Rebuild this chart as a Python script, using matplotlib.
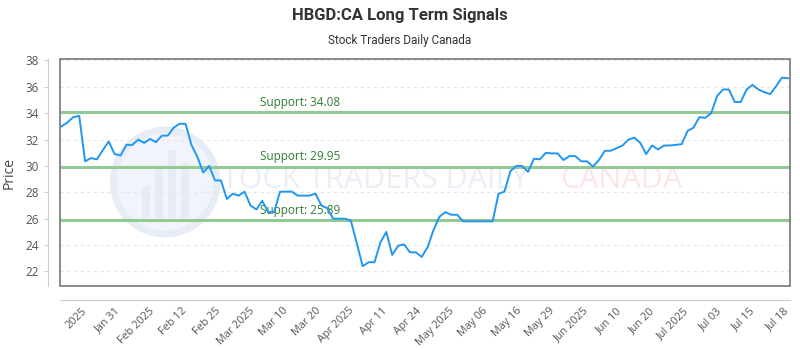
import numpy as np
import matplotlib
matplotlib.use('Agg')
import matplotlib.pyplot as plt
from matplotlib.patches import Ellipse, Rectangle

plt.rcParams['font.family'] = ['Open Sans', 'DejaVu Sans']

title = 'HBGD:CA Long Term Signals'
subtitle = 'Stock Traders Daily Canada'

# closing prices, one per trading day
prices = [
    33.0, 33.3, 33.7, 33.8, 30.35, 30.6, 30.5, 31.2, 31.85, 30.9,
    30.8, 31.6, 31.6, 32.0, 31.75, 32.05, 31.8, 32.3, 32.3, 32.9,
    33.2, 33.2, 31.6, 30.7, 29.5, 30.0, 28.9, 28.9, 27.5, 27.9,
    27.75, 28.05, 27.0, 26.7, 27.35, 26.5, 26.5, 28.05, 28.05, 28.05,
    27.75, 27.75, 27.75, 27.9, 27.0, 26.8, 26.0, 26.0, 26.0, 25.85,
    24.15, 22.4, 22.7, 22.7, 24.2, 25.0, 23.25, 23.95, 24.05, 23.45,
    23.45, 23.1, 23.85, 25.15, 26.15, 26.5, 26.3, 26.3, 25.8, 25.8,
    25.8, 25.8, 25.8, 25.8, 27.9, 28.05, 29.6, 30.0, 30.0, 29.55,
    30.55, 30.5, 31.0, 30.95, 30.95, 30.45, 30.75, 30.75, 30.35, 30.35,
    29.95, 30.45, 31.15, 31.15, 31.35, 31.55, 32.0, 32.15, 31.75, 30.9,
    31.55, 31.25, 31.55, 31.55, 31.6, 31.65, 32.65, 32.9, 33.7, 33.65,
    34.0, 35.3, 35.8, 35.8, 34.85, 34.85, 35.8, 36.15, 35.8, 35.6,
    35.45, 36.05, 36.7, 36.65,
]

supports = [34.08, 29.95, 25.89]

tick_labels = ['2025', 'Jan 31', 'Feb 2025', 'Feb 12', 'Feb 25', 'Mar 2025',
               'Mar 10', 'Mar 20', 'Apr 2025', 'Apr 11', 'Apr 24', 'May 2025',
               'May 06', 'May 16', 'May 29', 'Jun 2025', 'Jun 10', 'Jun 20',
               'Jul 2025', 'Jul 03', 'Jul 15', 'Jul 18']

x = np.arange(len(prices))

fig = plt.figure(figsize=(8, 3.5), dpi=100)
ax = fig.add_axes([0.075, 0.183, 0.9125, 0.648])

# spines first: set_position resets the ticks
for side in ['top', 'right']:
    ax.spines[side].set_visible(False)
ax.spines['left'].set_position(('outward', 9))
ax.spines['bottom'].set_position(('outward', 10))
ax.spines['left'].set_color('#cccccc')
ax.spines['bottom'].set_color('#cccccc')
ax.add_patch(Rectangle((0, 0), 1, 1, transform=ax.transAxes, fill=False,
                       ec='#777777', lw=1.2, clip_on=False, zorder=5))

# faint watermark
ax.add_patch(Ellipse((0.144, 0.458), 0.142, 0.458, transform=ax.transAxes,
                     fc='#f1f5fb', ec='#e6edf7', lw=5, zorder=0))
for i, h in enumerate([0.14, 0.22, 0.3, 0.24]):
    ax.add_patch(Rectangle((0.112 + i * 0.018, 0.3), 0.011, h, transform=ax.transAxes,
                           fc='#e6ecf6', ec='none', zorder=0))
ax.text(0.42, 0.467, 'STOCK TRADERS DAILY', transform=ax.transAxes, fontsize=22,
        color='#ebeff5', ha='center', va='center', zorder=0)
ax.text(0.769, 0.467, 'CANADA', transform=ax.transAxes, fontsize=22,
        color='#fde5e5', ha='center', va='center', zorder=0)

ax.set_ylim(20.9, 38.1)
ax.set_yticks(np.arange(22, 39, 2))
ax.grid(axis='y', color='#e6e6e6', linestyle=(0, (3, 3)), linewidth=0.8)
ax.set_axisbelow(True)

for s in supports:
    ax.axhline(s, color='#93c993', linewidth=2.2, zorder=2)
    ax.text(33.6, s + 0.25, 'Support: %.2f' % s, color='#2e7d32', fontsize=8.5,
            va='bottom', ha='left', zorder=3)

ax.plot(x, prices, color='#2196f3', linewidth=1.4, zorder=4)

ax.set_xlim(-0.25, 123.35)
ax.set_xticks(np.linspace(3.4, 122.2, len(tick_labels)))
ax.set_xticklabels(tick_labels, rotation=45, ha='right', rotation_mode='anchor')
ax.tick_params(axis='x', length=0, pad=4, labelsize=7.8, labelcolor='#555555')
ax.tick_params(axis='y', length=3, color='#cccccc', labelsize=8.5, labelcolor='#555555')

ax.set_ylabel('Price', fontsize=10, color='#444444', labelpad=6)

fig.text(0.5, 0.955, title, ha='center', va='center', fontsize=12,
         fontweight='bold', color='#333333', family=['Roboto', 'DejaVu Sans'])
fig.text(0.5, 0.885, subtitle, ha='center', va='center', fontsize=8.5,
         color='#333333', family=['Roboto', 'DejaVu Sans'])

plt.savefig('out.png', dpi=100)
